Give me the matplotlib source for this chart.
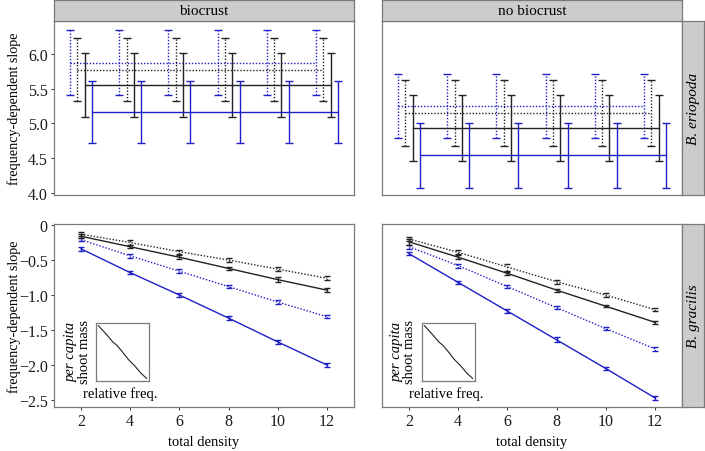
import numpy as np
import matplotlib.pyplot as plt

plt.rcParams['font.family'] = ['Liberation Serif', 'DejaVu Serif']
plt.rcParams['axes.unicode_minus'] = True

density = [2, 4, 6, 8, 10, 12]
columns = ['biocrust', 'no biocrust']
rows = ['B. eriopoda', 'B. gracilis']

# series order as dodged left to right: blue dotted, black dotted, black solid, blue solid
series = ['blue_dot', 'black_dot', 'black_solid', 'blue_solid']
dodge = [-0.45, -0.15, 0.15, 0.45]

# B. eriopoda, biocrust
er_bio_mean = {
    'blue_dot':    [5.87, 5.87, 5.87, 5.87, 5.87, 5.87],
    'black_dot':   [5.77, 5.77, 5.77, 5.77, 5.77, 5.77],
    'black_solid': [5.55, 5.55, 5.55, 5.55, 5.55, 5.55],
    'blue_solid':  [5.16, 5.16, 5.16, 5.16, 5.16, 5.16],
}
er_bio_err = {
    'blue_dot':    [0.47, 0.47, 0.47, 0.47, 0.47, 0.47],
    'black_dot':   [0.45, 0.45, 0.45, 0.45, 0.45, 0.45],
    'black_solid': [0.46, 0.46, 0.46, 0.46, 0.46, 0.46],
    'blue_solid':  [0.45, 0.45, 0.45, 0.45, 0.45, 0.45],
}
# B. eriopoda, no biocrust
er_nob_mean = {
    'blue_dot':    [5.25, 5.25, 5.25, 5.25, 5.25, 5.25],
    'black_dot':   [5.15, 5.15, 5.15, 5.15, 5.15, 5.15],
    'black_solid': [4.93, 4.93, 4.93, 4.93, 4.93, 4.93],
    'blue_solid':  [4.54, 4.54, 4.54, 4.54, 4.54, 4.54],
}
er_nob_err = {
    'blue_dot':    [0.46, 0.46, 0.46, 0.46, 0.46, 0.46],
    'black_dot':   [0.47, 0.47, 0.47, 0.47, 0.47, 0.47],
    'black_solid': [0.47, 0.47, 0.47, 0.47, 0.47, 0.47],
    'blue_solid':  [0.465, 0.465, 0.465, 0.465, 0.465, 0.465],
}
# B. gracilis, biocrust
gr_bio_mean = {
    'blue_dot':    [-0.21, -0.44, -0.66, -0.88, -1.10, -1.31],
    'black_dot':   [-0.13, -0.25, -0.38, -0.50, -0.63, -0.76],
    'black_solid': [-0.16, -0.31, -0.46, -0.62, -0.78, -0.93],
    'blue_solid':  [-0.34, -0.68, -1.00, -1.33, -1.67, -2.00],
}
gr_bio_err = {
    'blue_dot':    [0.025, 0.025, 0.025, 0.02, 0.025, 0.025],
    'black_dot':   [0.03, 0.03, 0.03, 0.025, 0.03, 0.03],
    'black_solid': [0.03, 0.025, 0.03, 0.025, 0.035, 0.03],
    'blue_solid':  [0.025, 0.025, 0.03, 0.025, 0.03, 0.03],
}
# B. gracilis, no biocrust
gr_nob_mean = {
    'blue_dot':    [-0.31, -0.58, -0.88, -1.18, -1.48, -1.77],
    'black_dot':   [-0.20, -0.39, -0.60, -0.81, -1.00, -1.21],
    'black_solid': [-0.24, -0.46, -0.69, -0.93, -1.16, -1.39],
    'blue_solid':  [-0.41, -0.82, -1.23, -1.64, -2.05, -2.47],
}
gr_nob_err = {
    'blue_dot':    [0.03, 0.03, 0.025, 0.025, 0.025, 0.025],
    'black_dot':   [0.035, 0.03, 0.05, 0.03, 0.03, 0.025],
    'black_solid': [0.04, 0.03, 0.025, 0.02, 0.015, 0.02],
    'blue_solid':  [0.02, 0.025, 0.025, 0.035, 0.025, 0.03],
}

top_yticks = [4.0, 4.5, 5.0, 5.5, 6.0]
bot_yticks = [0, -0.5, -1.0, -1.5, -2.0, -2.5]
bot_ylabels = ['0', '\u22120.5', '\u22121.0', '\u22121.5', '\u22122.0', '\u22122.5']

# inset sketch: per capita shoot mass vs relative frequency
inset_x = [0.0, 0.15, 0.3, 0.38, 0.5, 0.62, 0.75, 0.88, 1.0]
inset_y = [1.0, 0.85, 0.69, 0.63, 0.5, 0.36, 0.24, 0.1, 0.0]

BLUE = '#1f1fc8'
BLACK = '#222222'
style = {
    'blue_dot':    (BLUE, (0, (1, 1.3))),
    'black_dot':   (BLACK, (0, (1, 1.3))),
    'black_solid': (BLACK, '-'),
    'blue_solid':  (BLUE, '-'),
}
EDGE = '#7a7a7a'
W, H = 705, 452
FS = 10.5

fig = plt.figure(figsize=(W / 100, H / 100), dpi=100)


def px(x0, y0, x1, y1):
    return [x0 / W, 1 - y1 / H, (x1 - x0) / W, (y1 - y0) / H]


col_x = [(54, 354), (382, 682)]
row_y = [(22, 196), (225, 408)]


def frame(ax):
    for s in ax.spines.values():
        s.set_color(EDGE)
        s.set_linewidth(0.9)
    ax.tick_params(length=2.5, width=0.7, color='#333333', labelsize=11.5,
                   labelcolor='#1a1a1a', pad=2)
    ax.set_xlim(0.9, 13.1)


def strip(rect, text, rot=0, style_='normal'):
    s = fig.add_axes(rect)
    s.set_facecolor('#cccccc')
    s.set_xticks([])
    s.set_yticks([])
    for sp in s.spines.values():
        sp.set_color(EDGE)
        sp.set_linewidth(0.9)
    s.text(0.5, 0.5, text, ha='center', va='center', rotation=rot,
           fontsize=11, style=style_, transform=s.transAxes)


top_data = [(er_bio_mean, er_bio_err), (er_nob_mean, er_nob_err)]
bot_data = [(gr_bio_mean, gr_bio_err), (gr_nob_mean, gr_nob_err)]

for c in range(2):
    x0, x1 = col_x[c]
    # top row
    ax = fig.add_axes(px(x0, row_y[0][0], x1, row_y[0][1]))
    frame(ax)
    mean, err = top_data[c]
    for k, s in enumerate(series):
        col, ls = style[s]
        xs = np.array(density) + dodge[k]
        ax.plot(xs, mean[s], color=col, ls=ls, lw=1.0)
        eb = ax.errorbar(xs, mean[s], yerr=err[s], fmt='none', ecolor=col,
                         elinewidth=1.0, capsize=2.6, capthick=1.0)
        if ls != '-':
            eb[2][0].set_linestyle(ls)
    ax.set_ylim(3.97, 6.47)
    ax.set_xticks([])
    if c == 0:
        ax.set_yticks(top_yticks)
        ax.set_yticklabels(['%.1f' % v for v in top_yticks])
    else:
        ax.set_yticks([])

    # bottom row
    ax = fig.add_axes(px(x0, row_y[1][0], x1, row_y[1][1]))
    frame(ax)
    mean, err = bot_data[c]
    for s in series:
        col, ls = style[s]
        ax.plot(density, mean[s], color=col, ls=ls, lw=1.0)
        eb = ax.errorbar(density, mean[s], yerr=err[s], fmt='none', ecolor=col,
                         elinewidth=1.0, capsize=2.0, capthick=1.0)
        if ls != '-':
            eb[2][0].set_linestyle(ls)
    ax.set_ylim(-2.6, 0.015)
    ax.set_xticks(density)
    if c == 0:
        ax.set_yticks(bot_yticks)
        ax.set_yticklabels(bot_ylabels)
    else:
        ax.set_yticks([])
    fig.text((x0 + x1) / 2 / W, 1 - 443 / H, 'total density', ha='center',
             va='center', fontsize=FS)

    # column strip
    strip(px(x0, 1, x1, 22), columns[c])

    # inset
    ix0 = x0 + 42 if c == 0 else x0 + 40
    ia = fig.add_axes(px(ix0, 324, ix0 + 53, 382))
    ia.plot(inset_x, inset_y, color=BLACK, lw=0.8)
    ia.set_xlim(-0.05, 1.05)
    ia.set_ylim(-0.05, 1.05)
    ia.set_xticks([])
    ia.set_yticks([])
    for sp in ia.spines.values():
        sp.set_color(EDGE)
        sp.set_linewidth(0.9)
    fig.text((ix0 - 25) / W, 1 - 352 / H, 'per capita', rotation=90,
             style='italic', ha='center', va='center', fontsize=FS)
    fig.text((ix0 - 12) / W, 1 - 352 / H, 'shoot mass', rotation=90,
             ha='center', va='center', fontsize=FS)
    fig.text((ix0 + 24) / W, 1 - 394 / H, 'relative freq.', ha='center',
             va='center', fontsize=FS)

# row strips
for r in range(2):
    y0, y1 = row_y[r]
    strip(px(682, y0, 704, y1), rows[r], rot=90, style_='italic')
    fig.text(14 / W, 1 - (y0 + y1) / 2 / H, 'frequency-dependent slope',
             rotation=90, ha='center', va='center', fontsize=10.2)

fig.savefig('out.png', dpi=100)
